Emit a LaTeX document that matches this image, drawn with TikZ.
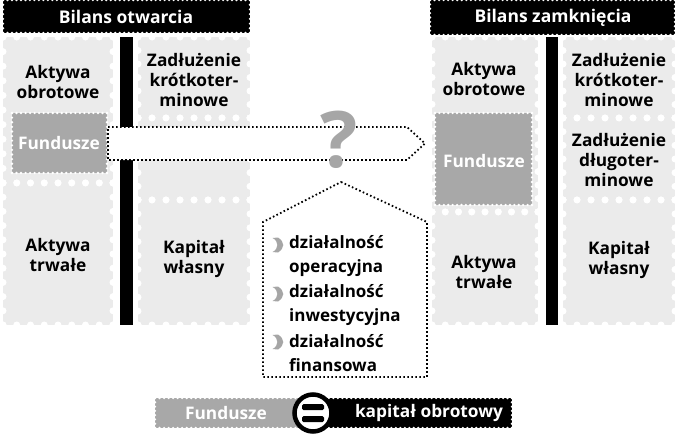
\documentclass[tikz,border=0pt]{standalone}
\usepackage{fontspec}
\setmainfont{Open Sans}
\definecolor{stampgray}{HTML}{EBEBEB}
\definecolor{fundgray}{HTML}{A8A8A8}
\definecolor{qgray}{HTML}{A6A6A6}
\newcommand\prfbox[7]{% x1 y1 x2 y2 spacing radius fill
  \fill[#7] (#1,#2) rectangle (#3,#4);
  \pgfmathsetmacro\prfW{#3-#1}\pgfmathsetmacro\prfH{#4-#2}
  \pgfmathtruncatemacro\prfNX{max(1,round(\prfW/#5))}
  \pgfmathtruncatemacro\prfNY{max(1,round(\prfH/#5))}
  \foreach \i in {0,...,\prfNX}{
    \fill[white] ({#1+\i*\prfW/\prfNX},#2) circle (#6pt);
    \fill[white] ({#1+\i*\prfW/\prfNX},#4) circle (#6pt);}
  \foreach \j in {0,...,\prfNY}{
    \fill[white] (#1,{#2+\j*\prfH/\prfNY}) circle (#6pt);
    \fill[white] (#3,{#2+\j*\prfH/\prfNY}) circle (#6pt);}
}
\tikzset{
  lbl/.style={font=\fontsize{17.3}{20}\selectfont\bfseries, align=center, inner sep=0pt},
  ttl/.style={font=\fontsize{17.5}{20}\selectfont\bfseries, text=white, inner sep=0pt},
  dotline/.style={line width=1.8pt, dash pattern=on 1.6pt off 2.4pt, fill=white},
  item/.style={font=\fontsize{17}{24.3}\selectfont\bfseries, align=left, anchor=west, inner sep=0pt},
  bul/.style={fill=qgray}
}
\begin{document}
\begin{tikzpicture}[x=1pt,y=-1pt]
\useasboundingbox (0,0) rectangle (675,439);
% ---------- left balance ----------
\prfbox{3}{37}{113}{183}{14}{3.5}{stampgray}
\prfbox{3}{183}{113}{325}{14}{3.5}{stampgray}
\prfbox{138}{37}{250}{118}{14}{3.5}{stampgray}
\prfbox{138}{118}{250}{200}{14}{3.5}{stampgray}
\prfbox{138}{200}{250}{325}{14}{3.5}{stampgray}
\fill (120,37) rectangle (133,325);
\prfbox{12}{113}{107}{173}{4.5}{1.3}{fundgray}
\prfbox{3}{0}{250}{33}{4.5}{1.3}{black}
\node[ttl] (t1) at (126,17) {Bilans otwarcia};
\node[lbl] (ao1) at (58,82) {Aktywa\\obrotowe};
\node[lbl] (zk1) at (194,80) {Zadłużenie\\krótkoter-\\minowe};
\node[lbl] (at1) at (58,255) {Aktywa\\trwałe};
\node[lbl] (kw1) at (194,259) {Kapitał\\własny};
% ---------- right balance ----------
\prfbox{432}{37}{538}{212}{14}{3.5}{stampgray}
\prfbox{432}{212}{538}{325}{14}{3.5}{stampgray}
\prfbox{563}{37}{675}{118}{14}{3.5}{stampgray}
\prfbox{563}{118}{675}{200}{14}{3.5}{stampgray}
\prfbox{563}{200}{675}{325}{14}{3.5}{stampgray}
\fill (546,37) rectangle (558,325);
\prfbox{435}{113}{532}{205}{4.5}{1.3}{fundgray}
\prfbox{430}{0}{675}{35}{4.5}{1.3}{black}
\node[ttl] (t2) at (553,18) {Bilans zamknięcia};
\node[lbl] (ao2) at (484,79) {Aktywa\\obrotowe};
\node[lbl] (zk2) at (619,80) {Zadłużenie\\krótkoter-\\minowe};
\node[lbl] (zd2) at (619,160) {Zadłużenie\\długoter-\\minowe};
\node[lbl] (at2) at (484,272) {Aktywa\\trwałe};
\node[lbl] (kw2) at (619,260) {Kapitał\\własny};
\node[lbl,text=white] (f2) at (484,161) {Fundusze};
% ---------- arrow ----------
\draw[dotline] (108,127) -- (407,127) -- (425,143.5) -- (407,160) -- (108,160) -- cycle;
\node[lbl,text=white] (f1) at (59,143) {Fundusze};
\node[font=\fontsize{78}{80}\selectfont\bfseries, text=qgray, inner sep=0pt] (q) at (339,140) {?};
% ---------- pentagon ----------
\draw[dotline] (341,182) -- (427,222) -- (427,377) -- (263,377) -- (263,222) -- cycle;
\node[item] (i1) at (289,256) {działalność\\operacyjna};
\node[item] (i2) at (289,305) {działalność\\inwestycyjna};
\node[item] (i3) at (289,353) {działalność\\finansowa};
\foreach \yy in {245,294,342}{
  \fill[bul] (272.5,\yy-7) .. controls (279,\yy-4) and (279,\yy+4) .. (272.5,\yy+7)
    -- (278,\yy+7.5) .. controls (285,\yy+3) and (285,\yy-3) .. (278,\yy-7.5) -- cycle;
}
% ---------- bottom ----------
\prfbox{155}{398}{300}{428}{4.5}{1.3}{fundgray}
\prfbox{320}{398}{512}{428}{4.5}{1.3}{black}
\node[lbl,text=white] (fb) at (226,413) {Fundusze};
\node[lbl,text=white] (kb) at (429,413) {kapitał obrotowy};
\node[circle, draw, line width=4.5pt, fill=white, minimum size=37pt, inner sep=0pt] (eq) at (313,413) {};
\fill[rounded corners=1.5pt] (302,404) rectangle (324,410);
\fill[rounded corners=1.5pt] (302,416) rectangle (324,422);
\end{tikzpicture}
\end{document}
